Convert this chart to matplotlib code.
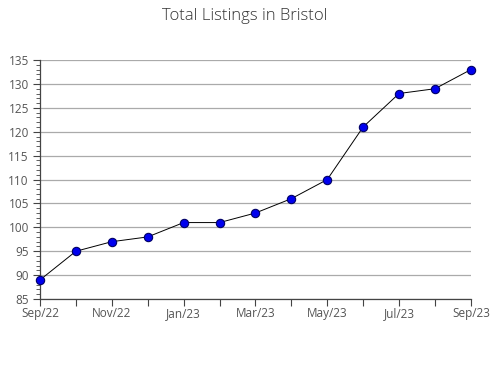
import matplotlib.pyplot as plt
from matplotlib.ticker import MultipleLocator

plt.rcParams['font.family'] = ['Open Sans', 'DejaVu Sans']

months = ["Sep/22", "Oct/22", "Nov/22", "Dec/22", "Jan/23", "Feb/23", "Mar/23",
          "Apr/23", "May/23", "Jun/23", "Jul/23", "Aug/23", "Sep/23"]
listings = [89, 95, 97, 98, 101, 101, 103, 106, 110, 121, 128, 129, 133]

fig = plt.figure(figsize=(4.9, 3.8), dpi=100)
ax = fig.add_axes([0.0816, 0.213, 0.8794, 0.629])

x = list(range(len(months)))
ax.plot(x, listings, color='black', lw=0.7, zorder=3, clip_on=False,
        marker='o', markersize=6, markerfacecolor='#0000ee',
        markeredgecolor='#000066', markeredgewidth=0.8)

ax.set_xlim(0, len(months) - 1)
ax.set_ylim(85, 135)
ax.yaxis.set_major_locator(MultipleLocator(5))
ax.yaxis.set_minor_locator(MultipleLocator(1))
ax.set_xticks(x)
ax.set_xticklabels([m if i % 2 == 0 else "" for i, m in enumerate(months)])

ax.grid(axis='y', color='#aaaaaa', lw=0.9)
ax.set_axisbelow(True)
for s in ['top', 'right']:
    ax.spines[s].set_visible(False)
for s in ['left', 'bottom']:
    ax.spines[s].set_color('#444444')
    ax.spines[s].set_linewidth(0.9)

ax.tick_params(axis='both', labelsize=8.5, colors='#444444', labelcolor='#555555')
ax.tick_params(axis='y', which='major', length=5, pad=3)
ax.tick_params(axis='y', which='minor', length=3, color='#444444')
ax.tick_params(axis='x', length=5, pad=1)

fig.suptitle("Total Listings in Bristol", fontsize=12, color='#333333',
             fontweight='light', y=0.98)

fig.savefig("out.png", dpi=100)
